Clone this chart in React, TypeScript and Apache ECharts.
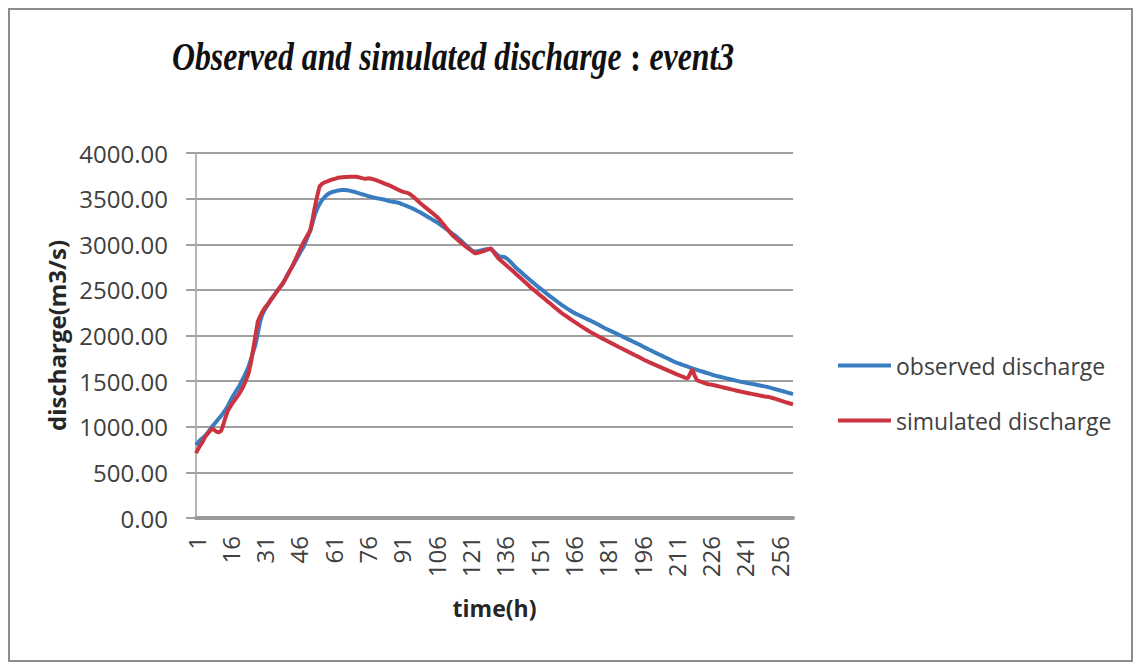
import React, { useEffect, useRef } from "react";
import * as echarts from "echarts";

const hours: string[] = Array.from({ length: 262 }, (_, i) => String(i + 1));

const observed: number[] = [
  800, 830, 860, 880, 900, 930, 965, 1000, 1030, 1060,
  1090, 1120, 1155, 1190, 1230, 1280, 1330, 1370, 1410, 1450,
  1500, 1550, 1605, 1660, 1740, 1820, 1900, 2020, 2150, 2230,
  2280, 2320, 2360, 2400, 2435, 2470, 2505, 2540, 2575, 2620,
  2665, 2710, 2750, 2795, 2840, 2885, 2930, 2970, 3030, 3090,
  3150, 3240, 3330, 3390, 3440, 3480, 3510, 3535, 3555, 3568,
  3575, 3582, 3588, 3592, 3595, 3595, 3592, 3588, 3582, 3576,
  3568, 3560, 3552, 3545, 3538, 3530, 3523, 3517, 3511, 3505,
  3500, 3495, 3490, 3483, 3476, 3470, 3466, 3462, 3457, 3450,
  3440, 3430, 3420, 3410, 3400, 3388, 3375, 3362, 3350, 3335,
  3320, 3305, 3290, 3275, 3260, 3245, 3230, 3212, 3193, 3175,
  3156, 3137, 3118, 3099, 3080, 3058, 3035, 3012, 2990, 2968,
  2945, 2925, 2920, 2922, 2928, 2935, 2940, 2945, 2948, 2945,
  2925, 2900, 2878, 2862, 2862, 2858, 2840, 2818, 2792, 2765,
  2740, 2718, 2697, 2675, 2653, 2630, 2608, 2588, 2567, 2546,
  2525, 2505, 2485, 2465, 2446, 2427, 2408, 2389, 2370, 2351,
  2333, 2316, 2300, 2284, 2268, 2253, 2240, 2228, 2216, 2204,
  2192, 2180, 2168, 2156, 2144, 2132, 2118, 2104, 2090, 2077,
  2065, 2053, 2042, 2030, 2018, 2006, 1994, 1982, 1970, 1958,
  1946, 1934, 1922, 1910, 1898, 1884, 1871, 1859, 1847, 1835,
  1822, 1810, 1798, 1786, 1774, 1762, 1750, 1738, 1726, 1713,
  1703, 1694, 1685, 1676, 1667, 1658, 1649, 1640, 1632, 1624,
  1616, 1608, 1600, 1592, 1584, 1576, 1567, 1560, 1554, 1548,
  1542, 1536, 1530, 1524, 1518, 1512, 1506, 1500, 1494, 1489,
  1484, 1479, 1474, 1470, 1465, 1460, 1455, 1450, 1445, 1440,
  1435, 1428, 1421, 1414, 1407, 1400, 1393, 1386, 1379, 1372,
  1365, 1358,
];

const simulated: number[] = [
  710, 760, 800, 840, 890, 920, 950, 980, 965, 945,
  940, 955, 1030, 1110, 1180, 1220, 1260, 1295, 1330, 1366,
  1410, 1460, 1520, 1585, 1700, 1850, 2000, 2150, 2210, 2260,
  2300, 2330, 2365, 2400, 2435, 2470, 2505, 2538, 2570, 2615,
  2660, 2710, 2754, 2808, 2862, 2917, 2973, 3020, 3065, 3110,
  3156, 3280, 3412, 3530, 3631, 3660, 3675, 3685, 3695, 3705,
  3712, 3720, 3728, 3732, 3735, 3737, 3738, 3740, 3740, 3740,
  3740, 3735, 3728, 3722, 3718, 3720, 3722, 3715, 3708, 3700,
  3690, 3680, 3670, 3660, 3650, 3640, 3628, 3615, 3602, 3590,
  3580, 3572, 3565, 3558, 3540, 3520, 3498, 3475, 3452, 3430,
  3410, 3390, 3370, 3349, 3328, 3306, 3284, 3254, 3223, 3193,
  3162, 3131, 3101, 3079, 3057, 3036, 3015, 2994, 2973, 2955,
  2937, 2918, 2900, 2905, 2912, 2920, 2928, 2938, 2947, 2955,
  2920, 2885, 2850, 2828, 2806, 2784, 2762, 2740, 2718, 2695,
  2672, 2650, 2627, 2604, 2581, 2558, 2535, 2514, 2493, 2472,
  2451, 2430, 2410, 2389, 2368, 2347, 2326, 2305, 2284, 2264,
  2243, 2226, 2209, 2192, 2175, 2158, 2141, 2124, 2108, 2092,
  2076, 2060, 2045, 2031, 2017, 2003, 1989, 1976, 1963, 1950,
  1937, 1924, 1911, 1898, 1885, 1872, 1860, 1847, 1834, 1821,
  1809, 1796, 1783, 1771, 1758, 1745, 1732, 1720, 1708, 1697,
  1686, 1675, 1664, 1653, 1642, 1631, 1620, 1609, 1598, 1587,
  1576, 1566, 1556, 1546, 1536, 1530, 1580, 1630, 1560, 1510,
  1500, 1491, 1482, 1474, 1466, 1462, 1458, 1452, 1446, 1440,
  1434, 1428, 1422, 1416, 1410, 1404, 1398, 1392, 1386, 1380,
  1375, 1370, 1365, 1360, 1355, 1350, 1345, 1340, 1335, 1330,
  1329, 1322, 1315, 1308, 1300, 1292, 1284, 1276, 1268, 1260,
  1252, 1245,
];

const seriesNames = ["observed discharge", "simulated discharge"];
const yTicks = { min: 0, max: 4000, interval: 500 };

const SANS = "'Open Sans', 'Noto Sans', sans-serif";
const SERIF = "'Liberation Serif', 'DejaVu Serif', serif";

export default function App() {
  const ref = useRef<HTMLDivElement>(null);

  useEffect(() => {
    if (!ref.current) return;
    const chart = echarts.init(ref.current, undefined, { renderer: "svg" });
    chart.setOption({
      animation: false,
      backgroundColor: "#ffffff",
      graphic: [
        {
          type: "rect",
          shape: { x: 9, y: 9, width: 1123, height: 652 },
          style: { fill: "none", stroke: "#8c8c8c", lineWidth: 2 },
          silent: true,
        },
        {
          type: "text",
          x: 172,
          y: 57,
          scaleX: 0.795,
          style: {
            text: "{a|Observed and simulated discharge}{b| : }{a|event3}",
            textAlign: "left",
            textVerticalAlign: "middle",
            rich: {
              a: {
                fontFamily: SERIF,
                fontStyle: "italic",
                fontWeight: "bold",
                fontSize: 40,
                fill: "#111",
              },
              b: {
                fontFamily: SERIF,
                fontWeight: "bold",
                fontSize: 42,
                fill: "#111",
              },
            },
          },
        },
      ],
      legend: {
        orient: "vertical",
        left: 833,
        top: 349,
        icon: "rect",
        itemWidth: 53,
        itemHeight: 4,
        itemGap: 32,
        data: seriesNames,
        textStyle: { fontFamily: SANS, fontSize: 23, color: "#404040" },
      },
      grid: { left: 196, top: 153, right: 346, bottom: 146, containLabel: false },
      xAxis: {
        type: "category",
        data: hours,
        boundaryGap: false,
        name: "time(h)",
        nameLocation: "middle",
        nameGap: 78,
        nameTextStyle: { fontFamily: SANS, fontWeight: "bold", fontSize: 23, color: "#262626" },
        axisLine: { show: true, lineStyle: { color: "#9a9a9a", width: 4 } },
        axisTick: { show: false },
        axisLabel: {
          interval: 14,
          rotate: 90,
          margin: 18,
          fontFamily: SANS,
          fontSize: 24,
          color: "#404040",
        },
        splitLine: { show: false },
      },
      yAxis: {
        type: "value",
        min: yTicks.min,
        max: yTicks.max,
        interval: yTicks.interval,
        name: "discharge(m3/s)",
        nameLocation: "middle",
        nameGap: 126,
        nameTextStyle: { fontFamily: SANS, fontWeight: "bold", fontSize: 24, color: "#262626" },
        axisLine: { show: true, lineStyle: { color: "#b5b5b5", width: 2 } },
        axisTick: { show: true, length: 10, lineStyle: { color: "#a0a0a0", width: 2 } },
        axisLabel: {
          margin: 28,
          fontFamily: SANS,
          fontSize: 24,
          color: "#404040",
          formatter: (v: number) => v.toFixed(2),
        },
        splitLine: { show: true, lineStyle: { color: "#a0a0a0", width: 2 } },
      },
      series: [
        {
          name: seriesNames[0],
          type: "line",
          data: observed,
          showSymbol: false,
          symbol: "none",
          color: "#3a7cc0",
          lineStyle: { width: 4, color: "#3a7cc0" },
        },
        {
          name: seriesNames[1],
          type: "line",
          data: simulated,
          showSymbol: false,
          symbol: "none",
          color: "#cc3340",
          lineStyle: { width: 4, color: "#cc3340" },
        },
      ],
    });
    return () => chart.dispose();
  }, []);

  return (
    <div
      ref={ref}
      style={{ position: "fixed", left: 0, top: 0, width: 1139, height: 664, background: "#fff" }}
    />
  );
}
